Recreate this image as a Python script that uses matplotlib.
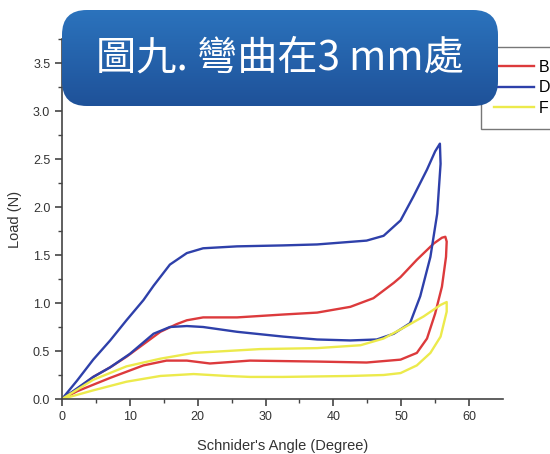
import numpy as np
import matplotlib
matplotlib.use("Agg")
import matplotlib.pyplot as plt
from matplotlib.patches import FancyBboxPatch

plt.rcParams['font.family'] = ['Liberation Sans', 'DejaVu Sans']

# loops: origin -> loading -> peak -> unloading -> origin
b_x = [0, 2.2, 4.6, 7.1, 9.5, 12.0, 14.5, 16.9, 18.4, 20.8, 25.8, 32.6, 37.6, 42.5, 45.9, 48.9,
       49.9, 52.3, 54.8, 56.0, 56.5, 56.7, 56.6, 56.0, 55.0, 53.8, 52.3, 49.9, 44.9, 37.6, 27.7,
       21.8, 18.4, 15.4, 12.0, 7.1, 2.2, 0]
b_y = [0, 0.10, 0.23, 0.33, 0.44, 0.57, 0.70, 0.78, 0.82, 0.85, 0.85, 0.88, 0.90, 0.96, 1.05, 1.21,
       1.27, 1.45, 1.62, 1.68, 1.69, 1.64, 1.48, 1.17, 0.89, 0.63, 0.48, 0.41, 0.38, 0.39, 0.40,
       0.37, 0.40, 0.40, 0.35, 0.22, 0.08, 0]

d_x = [0, 2.2, 4.6, 7.1, 9.5, 12.0, 13.5, 15.9, 18.4, 20.8, 25.8, 32.6, 37.6, 44.9, 47.4, 49.9,
       51.8, 53.8, 55.0, 55.7, 55.8, 55.3, 54.3, 52.8, 51.3, 48.9, 46.4, 42.5, 37.6, 32.6,
       25.8, 20.8, 18.4, 15.9, 13.5, 10.0, 7.1, 4.6, 0]
d_y = [0, 0.19, 0.41, 0.61, 0.82, 1.03, 1.18, 1.40, 1.52, 1.57, 1.59, 1.60, 1.61, 1.65, 1.70, 1.86,
       2.11, 2.39, 2.58, 2.66, 2.45, 1.93, 1.48, 1.07, 0.79, 0.68, 0.62, 0.61, 0.62, 0.65,
       0.70, 0.75, 0.76, 0.75, 0.68, 0.47, 0.33, 0.23, 0]

f_x = [0, 4.6, 9.5, 14.5, 19.4, 24.3, 29.2, 37.6, 44.0, 47.4, 50.3, 53.3, 55.8, 56.7, 56.7,
       55.8, 54.3, 52.3, 49.9, 47.4, 42.5, 32.6, 27.7, 24.3, 19.4, 14.5, 9.5, 4.6, 0]
f_y = [0, 0.20, 0.34, 0.42, 0.48, 0.50, 0.52, 0.53, 0.56, 0.63, 0.74, 0.86, 0.98, 1.01, 0.91,
       0.65, 0.48, 0.35, 0.27, 0.25, 0.24, 0.23, 0.23, 0.24, 0.26, 0.24, 0.18, 0.09, 0]

labels = ['B', 'D', 'F']
colors = ['#dc3a3c', '#2e40aa', '#ecea4c']

fig = plt.figure(figsize=(5.5, 4.54), dpi=100)
ax = fig.add_axes([62 / 550, 55 / 454, 441 / 550, 360 / 454])

for xs, ys, lab, c in zip([b_x, d_x, f_x], [b_y, d_y, f_y], labels, colors):
    ax.plot(xs, ys, color=c, lw=1.7, label=lab, solid_joinstyle='round')

ax.set_xlim(0, 65)
ax.set_ylim(0, 3.75)
ax.set_xticks(np.arange(0, 61, 10))
ax.set_xticks(np.arange(5, 65, 10), minor=True)
ax.set_yticks(np.arange(0, 3.6, 0.5))
ax.set_yticks(np.arange(0.25, 3.76, 0.5), minor=True)
ax.set_yticklabels(['%.1f' % v for v in np.arange(0, 3.6, 0.5)])
for s in ['top', 'right']:
    ax.spines[s].set_visible(False)
for s in ['left', 'bottom']:
    ax.spines[s].set_color('#444444')
    ax.spines[s].set_linewidth(1.2)
ax.tick_params(which='major', direction='out', length=5, width=1.2, color='#444444',
               labelsize=9, labelcolor='#333333')
ax.tick_params(which='minor', direction='out', length=3, width=1.0, color='#444444')
ax.set_xlabel("Schnider's Angle (Degree)", fontsize=10.5, color='#333333', labelpad=12)
ax.set_ylabel('Load (N)', fontsize=10.5, color='#333333', labelpad=8)

leg = ax.legend(loc='upper left', bbox_to_anchor=(481 / 550, 1 - 47 / 454),
                bbox_transform=fig.transFigure, fontsize=11.5,
                fancybox=False, edgecolor='#777777', framealpha=1, handlelength=2.5,
                handletextpad=0.3, labelspacing=0.35, borderpad=0.8, borderaxespad=0)
leg.get_frame().set_linewidth(1.0)

# title box with a soft vertical gradient
x0, y0, w, h = 62 / 550, 1 - 106 / 454, 436 / 550, 96 / 454
gax = fig.add_axes([x0, y0, w, h], zorder=6)
gax.axis('off')
grad = np.linspace(0, 1, 100).reshape(-1, 1, 1)
top = np.array([0.17, 0.45, 0.74])
bot = np.array([0.12, 0.32, 0.60])
img = top + (bot - top) * grad
gim = gax.imshow(img, aspect='auto', extent=[0, 1, 0, 1], origin='upper')
gax.set_xlim(0, 1)
gax.set_ylim(0, 1)
clip = FancyBboxPatch((x0, y0), w, h, boxstyle='round,pad=0,rounding_size=0.045',
                      transform=fig.transFigure, mutation_aspect=550 / 454)
gim.set_clip_path(clip)
gax.text(0.5, 0.5, '圖九. 彎曲在3 mm處', color='white', fontsize=29,
         ha='center', va='center', family=['Noto Sans CJK TC', 'DejaVu Sans'])

fig.savefig('out.png', dpi=100)
